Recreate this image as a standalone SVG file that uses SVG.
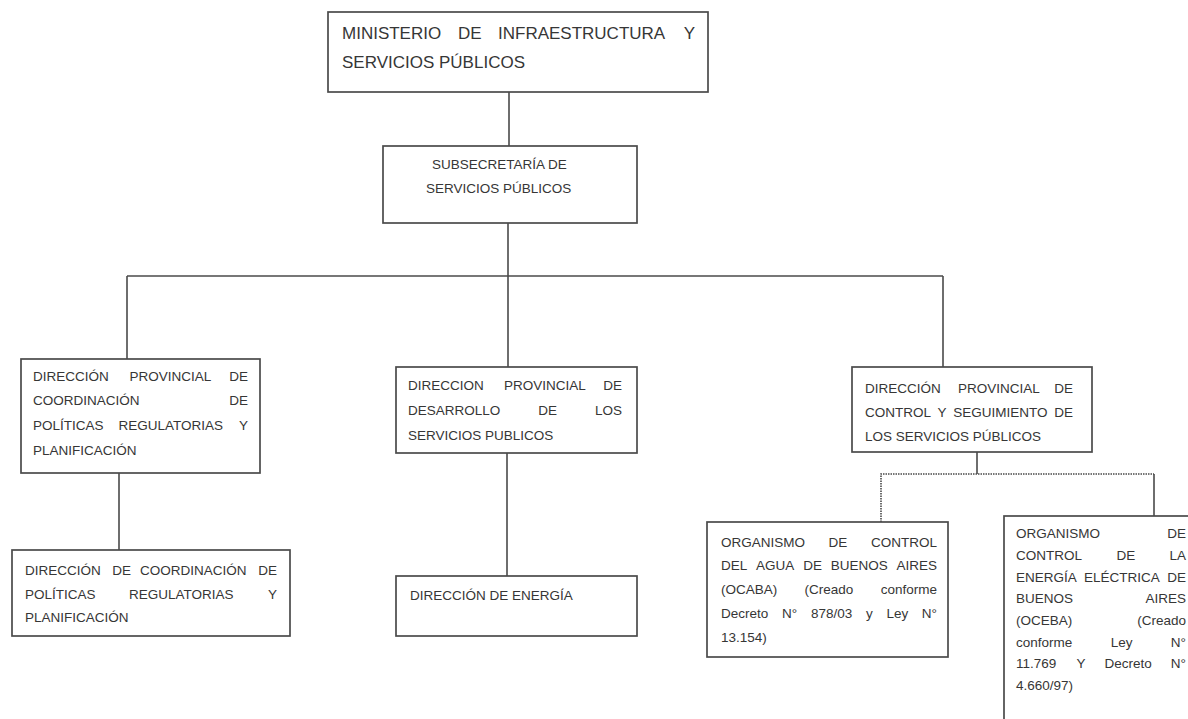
<svg xmlns="http://www.w3.org/2000/svg" width="1188" height="719" viewBox="0 0 1188 719">
<style>
.box{fill:#fff;stroke:#4a4a4a;stroke-width:1.7}
.t{font-family:"Liberation Sans",Arial,sans-serif;font-size:13.5px;fill:#363636}
.big{font-size:17px}
.ln{fill:none;stroke:#4a4a4a;stroke-width:1.6}
.dot{fill:none;stroke:#4a4a4a;stroke-width:1.6;stroke-dasharray:1.5 1}
.e{text-anchor:end}
</style>
<rect width="1188" height="719" fill="#fff"/>
<g id="connectors">
<line class="ln" x1="509" y1="92" x2="509" y2="146"/>
<line class="ln" x1="508" y1="223" x2="508" y2="367"/>
<line class="ln" x1="127" y1="276" x2="943" y2="276"/>
<line class="ln" x1="127" y1="276" x2="127" y2="359"/>
<line class="ln" x1="943" y1="276" x2="943" y2="367"/>
<line class="ln" x1="119" y1="473" x2="119" y2="550"/>
<line class="ln" x1="507" y1="453" x2="507" y2="576"/>
<line class="ln" x1="977" y1="452" x2="977" y2="474"/>
<polyline class="dot" points="881,522 881,474 1154,474"/>
<line class="ln" x1="1154" y1="474" x2="1154" y2="516"/>
</g>
<g id="ministerio">
<rect class="box" x="328" y="12" width="380" height="80"/>
<text class="t big" y="39"><tspan x="342">MINISTERIO</tspan><tspan x="458">DE</tspan><tspan x="498">INFRAESTRUCTURA</tspan><tspan x="695" class="e">Y</tspan></text>
<text class="t big" x="342" y="68">SERVICIOS PÚBLICOS</text>
</g>
<g id="subsecretaria">
<rect class="box" x="383" y="146" width="254" height="77"/>
<text class="t" x="432" y="169">SUBSECRETARÍA DE</text>
<text class="t" x="426" y="193">SERVICIOS PÚBLICOS</text>
</g>
<g id="dp-coordinacion">
<rect class="box" x="21" y="359" width="239" height="114"/>
<text class="t" y="381"><tspan x="33">DIRECCIÓN</tspan><tspan x="129.4">PROVINCIAL</tspan><tspan x="248" class="e">DE</tspan></text>
<text class="t" y="405"><tspan x="33">COORDINACIÓN</tspan><tspan x="248" class="e">DE</tspan></text>
<text class="t" y="430"><tspan x="33">POLÍTICAS</tspan><tspan x="118.4">REGULATORIAS</tspan><tspan x="248" class="e">Y</tspan></text>
<text class="t" x="33" y="455">PLANIFICACIÓN</text>
</g>
<g id="d-coordinacion">
<rect class="box" x="12" y="550" width="278" height="86"/>
<text class="t" y="575"><tspan x="25">DIRECCIÓN</tspan><tspan x="112.3">DE</tspan><tspan x="140">COORDINACIÓN</tspan><tspan x="277" class="e">DE</tspan></text>
<text class="t" y="599"><tspan x="25">POLÍTICAS</tspan><tspan x="128.9">REGULATORIAS</tspan><tspan x="277" class="e">Y</tspan></text>
<text class="t" x="25" y="622">PLANIFICACIÓN</text>
</g>
<g id="dp-desarrollo">
<rect class="box" x="396" y="367" width="241" height="86"/>
<text class="t" y="390"><tspan x="408">DIRECCION</tspan><tspan x="503.9">PROVINCIAL</tspan><tspan x="622" class="e">DE</tspan></text>
<text class="t" y="415"><tspan x="408">DESARROLLO</tspan><tspan x="538.3">DE</tspan><tspan x="622" class="e">LOS</tspan></text>
<text class="t" x="408" y="440">SERVICIOS PUBLICOS</text>
</g>
<g id="d-energia">
<rect class="box" x="396" y="576" width="241" height="60"/>
<text class="t" x="410" y="600">DIRECCIÓN DE ENERGÍA</text>
</g>
<g id="dp-control">
<rect class="box" x="852" y="367" width="240" height="85"/>
<text class="t" y="393"><tspan x="865">DIRECCIÓN</tspan><tspan x="957.9">PROVINCIAL</tspan><tspan x="1073" class="e">DE</tspan></text>
<text class="t" y="417"><tspan x="865">CONTROL</tspan><tspan x="937.6">Y</tspan><tspan x="953.2">SEGUIMIENTO</tspan><tspan x="1073" class="e">DE</tspan></text>
<text class="t" x="865" y="441">LOS SERVICIOS PÚBLICOS</text>
</g>
<g id="ocaba">
<rect class="box" x="707" y="522" width="241" height="135"/>
<text class="t" y="547"><tspan x="721">ORGANISMO</tspan><tspan x="828.6">DE</tspan><tspan x="937" class="e">CONTROL</tspan></text>
<text class="t" y="570"><tspan x="721">DEL</tspan><tspan x="756.1">AGUA</tspan><tspan x="803.2">DE</tspan><tspan x="830.8">BUENOS</tspan><tspan x="937" class="e">AIRES</tspan></text>
<text class="t" y="594"><tspan x="721">(OCABA)</tspan><tspan x="804.6">(Creado</tspan><tspan x="937" class="e">conforme</tspan></text>
<text class="t" y="618"><tspan x="721">Decreto</tspan><tspan x="782">N°</tspan><tspan x="810.9">878/03</tspan><tspan x="865.9">y</tspan><tspan x="886.4">Ley</tspan><tspan x="937" class="e">N°</tspan></text>
<text class="t" x="721" y="642">13.154)</text>
</g>
<g id="oceba">
<rect class="box" x="1004" y="516" width="200" height="220"/>
<text class="t" y="538"><tspan x="1016">ORGANISMO</tspan><tspan x="1186" class="e">DE</tspan></text>
<text class="t" y="560"><tspan x="1016">CONTROL</tspan><tspan x="1116.4">DE</tspan><tspan x="1186" class="e">LA</tspan></text>
<text class="t" y="582"><tspan x="1016">ENERGÍA</tspan><tspan x="1084.1">ELÉCTRICA</tspan><tspan x="1186" class="e">DE</tspan></text>
<text class="t" y="603"><tspan x="1016">BUENOS</tspan><tspan x="1186" class="e">AIRES</tspan></text>
<text class="t" y="625"><tspan x="1016">(OCEBA)</tspan><tspan x="1186" class="e">(Creado</tspan></text>
<text class="t" y="647"><tspan x="1016">conforme</tspan><tspan x="1110.7">Ley</tspan><tspan x="1186" class="e">N°</tspan></text>
<text class="t" y="668"><tspan x="1016">11.769</tspan><tspan x="1076.4">Y</tspan><tspan x="1104.5">Decreto</tspan><tspan x="1186" class="e">N°</tspan></text>
<text class="t" x="1016" y="690">4.660/97)</text>
</g>
</svg>
